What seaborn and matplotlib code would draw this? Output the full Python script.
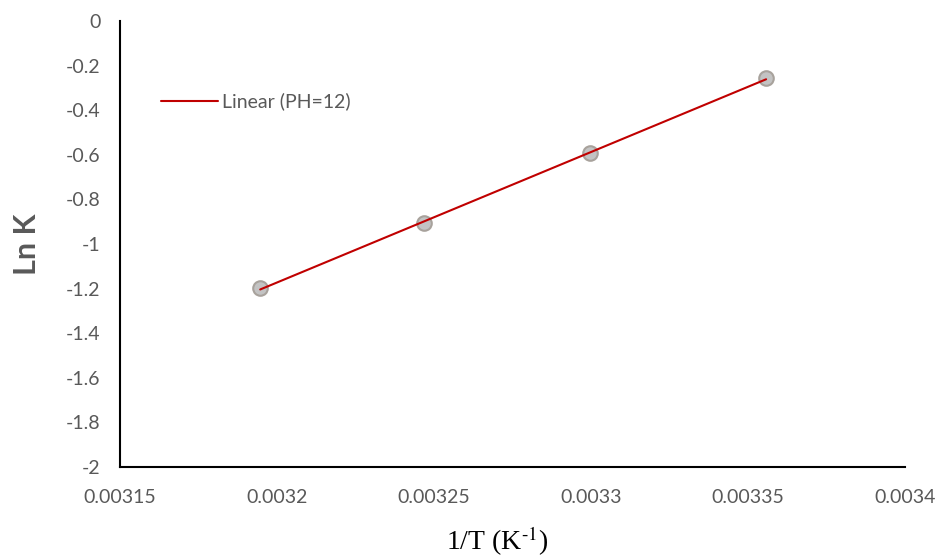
import numpy as np
import matplotlib
matplotlib.use("Agg")
import matplotlib.pyplot as plt
import seaborn as sns
import pandas as pd

# data
inv_temp = [0.0031946, 0.0032468, 0.0032997, 0.0033557]
ln_k = [-1.197, -0.906, -0.592, -0.256]
x_ticks = [0.00315, 0.0032, 0.00325, 0.0033, 0.00335, 0.0034]
x_tick_labels = ["0.00315", "0.0032", "0.00325", "0.0033", "0.00335", "0.0034"]
y_ticks = [0, -0.2, -0.4, -0.6, -0.8, -1, -1.2, -1.4, -1.6, -1.8, -2]
y_tick_labels = ["0", "-0.2", "-0.4", "-0.6", "-0.8", "-1", "-1.2", "-1.4", "-1.6", "-1.8", "-2"]

df = pd.DataFrame({"x": inv_temp, "y": ln_k})

# linear trendline (as Excel draws it, between first and last point)
slope, intercept = np.polyfit(df["x"], df["y"], 1)
fit_df = pd.DataFrame({"x": [df["x"].min(), df["x"].max()]})
fit_df["y"] = slope * fit_df["x"] + intercept

sns.set_style("white")
plt.rcParams["font.family"] = ["Lato", "DejaVu Sans"]

fig = plt.figure(figsize=(9.39, 5.56), dpi=100)
ax = fig.add_axes([0.128, 0.160, 0.836, 0.802])

sns.scatterplot(data=df, x="x", y="y", ax=ax, s=110, color="#c3c3c3",
                edgecolor="#a8a29c", linewidth=1.5, zorder=2, legend=False)
sns.lineplot(data=fit_df, x="x", y="y", ax=ax, color="#c00000", linewidth=1.5,
             zorder=3, label="Linear (PH=12)")

ax.set_xlim(0.00315, 0.0034)
ax.set_ylim(-2, 0)
ax.set_xticks(x_ticks)
ax.set_xticklabels(x_tick_labels)
ax.set_yticks(y_ticks)
ax.set_yticklabels(y_tick_labels)
ax.tick_params(axis="both", length=0, labelsize=14, labelcolor="#595959")
ax.tick_params(axis="x", pad=16)
ax.tick_params(axis="y", pad=14)

for side in ["top", "right"]:
    ax.spines[side].set_visible(False)
for side in ["left", "bottom"]:
    ax.spines[side].set_color("black")
    ax.spines[side].set_linewidth(1.5)

ax.set_ylabel("Ln K", fontsize=22, fontweight="bold", color="#595959", labelpad=18)
ax.set_xlabel(r"1/T (K$^{\text{-}1}$)", fontsize=20, family="Liberation Serif",
              color="black", labelpad=13)
ax.xaxis.label.set_math_fontfamily("stix")
ax.xaxis.label.set_x(0.48)

leg = ax.legend(loc="center left", bbox_to_anchor=(0.03, 0.82), frameon=False,
                fontsize=14, handlelength=2.9, handletextpad=0.2)
for t in leg.get_texts():
    t.set_color("#595959")

fig.savefig("out.png", dpi=100)
plt.close()
